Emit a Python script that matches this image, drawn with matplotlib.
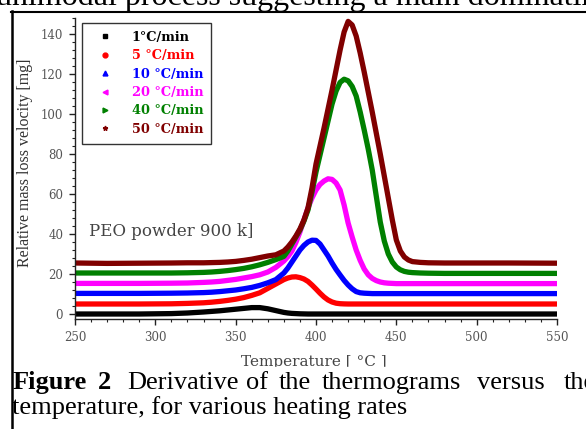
import matplotlib.pyplot as plt
from matplotlib.lines import Line2D
from matplotlib.patches import Rectangle
from matplotlib.ticker import MultipleLocator

# temperature grid [°C]
temps = [250, 270, 290, 310, 320, 330, 335, 340, 345, 350, 355, 360, 365, 370, 375,
         380, 382.5, 385, 387.5, 390, 392.5, 395, 397.5, 400, 402.5, 405, 407.5, 410, 412.5,
         415, 417.5, 420, 422.5, 425, 427.5, 430, 432.5, 435, 437.5, 440, 442.5, 445, 447.5,
         450, 452.5, 455, 457.5, 460,
         465, 470, 480, 500, 520, 550]

# relative mass loss velocity [mg] for each heating rate (curves offset by 5 mg)
rate_1 = [0.0, 0.0, 0.0, 0.2, 0.5, 1.0, 1.3, 1.6, 2.0, 2.4, 2.8, 3.2, 3.2, 2.6, 1.7,
          0.8, 0.5, 0.3, 0.2, 0.1, 0.05, 0.0, 0.0, 0.0, 0.0, 0.0, 0.0, 0.0, 0.0,
          0.0, 0.0, 0.0, 0.0, 0.0, 0.0, 0.0, 0.0, 0.0, 0.0, 0.0, 0.0, 0.0, 0.0,
          0.0, 0.0, 0.0, 0.0, 0.0,
          0.0, 0.0, 0.0, 0.0, 0.0, 0.0]
rate_5 = [5.0, 5.0, 5.0, 5.1, 5.3, 5.6, 5.9, 6.3, 6.8, 7.4, 8.2, 9.3, 10.6, 12.8, 15.0,
          17.2, 18.0, 18.5, 18.6, 18.2, 17.5, 16.3, 14.5, 12.5, 10.4, 8.5, 7.0, 6.0, 5.4,
          5.15, 5.05, 5.0, 5.0, 5.0, 5.0, 5.0, 5.0, 5.0, 5.0, 5.0, 5.0, 5.0, 5.0,
          5.0, 5.0, 5.0, 5.0, 5.0,
          5.0, 5.0, 5.0, 5.0, 5.0, 5.0]
rate_10 = [10.3, 10.3, 10.3, 10.4, 10.5, 10.7, 10.9, 11.2, 11.6, 12.0, 12.6, 13.3, 14.3, 15.6, 17.2,
           20.5, 23.0, 26.0, 29.0, 32.0, 34.3, 36.0, 36.9, 36.8, 35.0, 32.0, 29.0, 25.5, 22.3,
           19.5, 16.8, 14.5, 12.6, 11.2, 10.6, 10.4, 10.3, 10.2, 10.2, 10.2, 10.2, 10.2, 10.2,
           10.2, 10.2, 10.2, 10.2, 10.2,
           10.2, 10.2, 10.2, 10.2, 10.2, 10.2]
rate_20 = [15.3, 15.3, 15.3, 15.4, 15.5, 15.8, 16.0, 16.3, 16.8, 17.3, 18.0, 18.7, 19.6, 21.0, 23.3,
           26.5, 28.7, 31.5, 35.8, 41.0, 47.0, 53.0, 58.0, 62.0, 64.8, 66.5, 67.6, 67.3, 65.5,
           62.0, 54.5, 45.5, 38.5, 32.0, 26.8, 22.5, 19.6, 17.8, 16.7, 16.0, 15.6, 15.4, 15.3,
           15.2, 15.2, 15.2, 15.2, 15.2,
           15.2, 15.2, 15.2, 15.2, 15.2, 15.2]
rate_40 = [20.5, 20.5, 20.5, 20.5, 20.6, 20.8, 21.0, 21.3, 21.7, 22.2, 22.8, 23.6, 24.6, 25.8, 27.2,
           28.8, 31.5, 35.0, 38.5, 42.0, 46.5, 52.0, 61.0, 71.0, 79.5, 88.0, 96.5, 105.0, 111.5,
           115.8, 117.4, 116.6, 113.8, 109.0, 101.0, 92.0, 82.5, 72.0, 59.0, 46.0, 36.5, 30.0, 26.0,
           23.5, 22.1, 21.3, 20.9, 20.7,
           20.5, 20.4, 20.3, 20.3, 20.3, 20.3]
rate_50 = [25.5, 25.3, 25.4, 25.5, 25.6, 25.6, 25.7, 25.8, 26.0, 26.3, 26.8, 27.4, 28.2, 29.0, 29.6,
           31.5, 33.5, 36.0, 39.0, 42.5, 47.0, 53.0, 63.0, 75.0, 84.0, 93.0, 102.5, 112.0, 122.0,
           132.0, 141.0, 146.3, 144.5, 139.0, 130.5, 121.0, 111.0, 101.0, 90.5, 80.0, 69.0, 58.0, 47.0,
           37.0, 31.5, 28.5, 27.0, 26.2,
           25.8, 25.6, 25.5, 25.5, 25.5, 25.4]

series = [rate_1, rate_5, rate_10, rate_20, rate_40, rate_50]
labels = ['1°C/min', '5 °C/min', '10 °C/min', '20 °C/min', '40 °C/min', '50 °C/min']
colors = ['black', '#ff0000', '#0000ff', '#ff00ff', '#008000', '#800000']
markers = ['s', 'o', '^', '<', '>', '*']

W, H = 586, 429


def fx(px):
    return px / W


def fy(py):
    return 1 - py / H


fig = plt.figure(figsize=(W / 100, H / 100), dpi=100)
ax = fig.add_axes([fx(75), fy(319), fx(557) - fx(75), fy(18) - fy(319)])

for vals, c in zip(series, colors):
    ax.plot(temps, vals, color=c, lw=3.8, solid_capstyle='butt', solid_joinstyle='round',
            clip_on=False)

ax.set_xlim(250, 550)
ax.set_ylim(-2.5, 148)
ax.spines['top'].set_visible(False)
ax.spines['right'].set_visible(False)
for s in ['left', 'bottom']:
    ax.spines[s].set_color('#222222')
    ax.spines[s].set_linewidth(1.0)

ax.set_xticks(range(250, 551, 50))
ax.set_yticks(range(0, 141, 20))
ax.xaxis.set_minor_locator(MultipleLocator(10))
ax.yaxis.set_minor_locator(MultipleLocator(4))
ax.tick_params(which='major', direction='out', length=4.5, width=1, color='#222222',
               labelcolor='#555555', labelsize=8.5, pad=4)
ax.tick_params(which='minor', direction='out', length=2.5, width=0.8, color='#222222')
for lab in ax.get_xticklabels() + ax.get_yticklabels():
    lab.set_fontfamily('DejaVu Serif')

ax.text(259, 41, 'PEO powder 900 k]', family='DejaVu Serif', fontsize=12,
        color='#444444', va='center', ha='left')

handles = [Line2D([], [], ls='none', marker=m, color=c, markersize=3.5)
           for m, c in zip(markers, colors)]
leg = ax.legend(handles, labels, loc='upper left', bbox_to_anchor=(fx(82), fy(23)),
                bbox_transform=fig.transFigure,
                prop={'family': 'DejaVu Serif', 'weight': 'bold', 'size': 9.3},
                labelcolor=colors, frameon=True, fancybox=False, edgecolor='#333333',
                framealpha=1, handlelength=2.3, handletextpad=0.95, borderpad=0.6,
                labelspacing=0.42, borderaxespad=0)
leg.get_frame().set_linewidth(1.0)

fig.text(fx(25), fy(163), 'Relative mass loss velocity [mg]', rotation=90,
         family='Liberation Serif', fontsize=11.5, color='#333333', ha='center', va='center')
fig.text(fx(314), fy(355), 'Temperature [ °C ]', family='DejaVu Serif', fontsize=11,
         color='#444444', ha='center', va='top')

# white caption area covering the lower part of the axis label
fig.patches.append(Rectangle((fx(14), 0), 1, fy(367), transform=fig.transFigure,
                             color='white', zorder=5))

# page text above the frame
fig.text(fx(-4), fy(5), 'unimodal process suggesting a main dominating',
         family='Liberation Serif', fontsize=23, va='baseline', ha='left')

# caption (justified first line)
cap_words = ['Figure', '2', 'Derivative', 'of', 'the', 'thermograms', 'versus', 'the']
cap_x = [13, 98, 127, 246, 279, 322, 477, 564]
for i, (w, x) in enumerate(zip(cap_words, cap_x)):
    fig.text(fx(x), fy(389), w, family='Liberation Serif', fontsize=19,
             weight='bold' if i < 2 else 'normal', va='baseline', ha='left', zorder=6)
fig.text(fx(12), fy(414), 'temperature, for various heating rates', family='Liberation Serif',
         fontsize=19, va='baseline', ha='left', zorder=6)

# frame borders
fig.add_artist(Line2D([fx(12), fx(12)], [fy(10.5), 0], color='black', lw=1.8, zorder=7))
fig.add_artist(Line2D([fx(11), 1], [fy(11.5), fy(11.5)], color='black', lw=1.5, zorder=7))

fig.savefig('out.png', dpi=100)
